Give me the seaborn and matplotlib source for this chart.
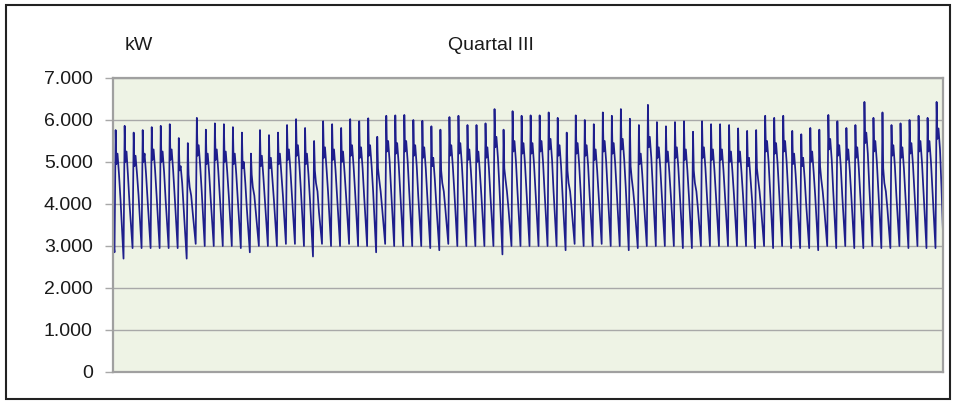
import numpy as np
import pandas as pd
import matplotlib
matplotlib.use("Agg")
import matplotlib.pyplot as plt
import seaborn as sns
from matplotlib.patches import Rectangle

# ---------------- data ----------------
title = "Quartal III"
unit = "kW"
y_ticks = [0, 1000, 2000, 3000, 4000, 5000, 6000, 7000]
y_tick_labels = ["0", "1.000", "2.000", "3.000", "4.000", "5.000", "6.000", "7.000"]

start_date = "2006-07-01"
start_value = 3200
end_value = 3300

# night minimum of each day (kW)
trough = [2850, 2700, 2950, 2950, 2950, 2950, 2950, 2950, 2700, 3050, 3000, 3000, 3000, 3000, 2950,
          2850, 3000, 3000, 3000, 3050, 3050, 3000, 2750, 3050, 3000, 3000, 3050, 3000, 3000, 2850,
          3050, 3000, 3000, 3000, 3000, 2950, 2900, 3050, 3000, 3000, 3000, 3000, 3000, 2800, 3000, 3000,
          3000, 3000, 3000, 3000, 2900, 3050, 3000, 3000, 3050, 3000, 3000, 2900, 2950, 3000, 3000,
          3000, 3000, 2950, 2950, 3000, 3000, 3000, 3000, 3000, 3000, 2950, 3000, 2950, 3000, 2950, 2950,
          2950, 2900, 3000, 2950, 3000, 2950, 2950, 3000, 2950, 2950, 3000, 2950, 3000, 2950, 2950]

# morning peak of each day (kW)
peak = [5760, 5860, 5700, 5760, 5830, 5860, 5900, 5570, 5450, 6050, 5770, 5920, 5900, 5830, 5700,
        5200, 5760, 5640, 5700, 5880, 6020, 5810, 5500, 5970, 5900, 5810, 6020, 5970, 6040, 5600,
        6100, 6110, 6120, 6000, 5980, 5850, 5770, 6070, 6100, 5880, 5880, 5920, 6260, 5770, 6210, 6100,
        6110, 6110, 6180, 6050, 5700, 6110, 6000, 5900, 6180, 6100, 6260, 6030, 5880, 6360, 5950,
        5850, 5950, 5970, 5720, 5970, 5900, 5900, 5880, 5800, 5740, 5760, 6100, 6050, 6100, 5740, 5660,
        5810, 5770, 6120, 5970, 5810, 5880, 6430, 6050, 6180, 5880, 5920, 6000, 6100, 6050, 6430]

# level just after the peak (kW)
dip = [4950, 5000, 4900, 5000, 5050, 5000, 5050, 4800, 4700, 5150, 4950, 5050, 5000, 4950, 4850,
       4700, 4900, 4850, 4950, 5050, 5150, 4950, 4800, 5100, 5050, 5000, 5150, 5100, 5150, 4850,
       5250, 5200, 5250, 5150, 5100, 4900, 4800, 5150, 5200, 5050, 5000, 5100, 5350, 4850, 5250, 5200,
       5200, 5250, 5300, 5150, 4800, 5200, 5150, 5050, 5250, 5200, 5300, 4900, 4950, 5350, 5100,
       5000, 5100, 5050, 4800, 5100, 5050, 5050, 5000, 5000, 4900, 4850, 5250, 5200, 5250, 4950, 4900,
       5000, 4900, 5300, 5150, 5050, 5100, 5450, 5250, 4850, 5150, 5100, 5200, 5250, 5250, 5550]

# midday plateau of each day (kW)
mid = [5200, 5250, 5150, 5200, 5300, 5250, 5300, 4900, 4400, 5400, 5200, 5300, 5250, 5200, 5000,
       4400, 5150, 5100, 5200, 5300, 5400, 5200, 4500, 5350, 5300, 5250, 5400, 5350, 5400, 4600,
       5500, 5450, 5500, 5400, 5350, 5100, 4500, 5400, 5450, 5300, 5250, 5350, 5600, 4600, 5500, 5450,
       5450, 5500, 5550, 5400, 4500, 5450, 5400, 5300, 5500, 5450, 5550, 4600, 5200, 5600, 5350,
       5250, 5350, 5300, 4500, 5350, 5300, 5300, 5250, 5250, 5100, 4600, 5500, 5450, 5500, 5200, 5100,
       5250, 4600, 5550, 5400, 5300, 5350, 5700, 5500, 4500, 5400, 5350, 5450, 5500, 5500, 5800]

# afternoon level of each day (kW)
afternoon = [4700, 4650, 4700, 4700, 4800, 4750, 4800, 4500, 4200, 4900, 4700, 4800, 4750, 4700, 4500,
             4200, 4650, 4600, 4700, 4800, 4900, 4700, 4300, 4850, 4800, 4750, 4900, 4850, 4900, 4300,
             5000, 4950, 5000, 4900, 4850, 4600, 4300, 4900, 4950, 4800, 4750, 4850, 5100, 4300, 5000, 4950,
             4950, 5000, 5050, 4900, 4300, 4950, 4900, 4800, 5000, 4950, 5050, 4300, 4700, 5100, 4850,
             4750, 4850, 4800, 4300, 4850, 4800, 4800, 4750, 4750, 4600, 4300, 5000, 4950, 5000, 4700, 4600,
             4750, 4300, 5050, 4900, 4800, 4850, 5200, 5000, 4300, 4900, 4850, 4950, 5000, 5000, 5300]

# evening level of each day (kW)
evening = [4100, 4000, 4200, 4100, 4200, 4100, 4200, 3900, 3800, 4300, 4100, 4200, 4200, 4100, 3900,
           3800, 4100, 4100, 4200, 4200, 4300, 4100, 3800, 4300, 4200, 4200, 4300, 4200, 4300, 3900,
           4300, 4300, 4300, 4200, 4200, 4000, 3900, 4300, 4300, 4200, 4200, 4200, 4400, 3900, 4300, 4300,
           4300, 4300, 4300, 4200, 3900, 4300, 4200, 4200, 4300, 4300, 4400, 3900, 4100, 4400, 4200,
           4200, 4200, 4200, 3900, 4200, 4200, 4200, 4200, 4200, 4100, 3900, 4300, 4300, 4300, 4100, 4000,
           4200, 3900, 4300, 4200, 4200, 4200, 4400, 4300, 3900, 4200, 4200, 4300, 4300, 4300, 4400]

sample_hours = (4, 7, 9, 12, 16, 20)

# ---------------- build long table ----------------
day0 = pd.Timestamp(start_date)
times = [day0]
values = [start_value]
for d in range(len(peak)):
    base = day0 + pd.Timedelta(days=d)
    day_vals = (trough[d], peak[d], dip[d], mid[d], afternoon[d], evening[d])
    for h, v in zip(sample_hours, day_vals):
        times.append(base + pd.Timedelta(hours=h))
        values.append(v)
times.append(day0 + pd.Timedelta(days=len(peak)))
values.append(end_value)
df = pd.DataFrame({"time": times, "kW": values})

# ---------------- figure ----------------
sns.set_style("white")
plt.rcParams["font.family"] = ["Liberation Sans", "DejaVu Sans"]

W, H = 955, 401
fig = plt.figure(figsize=(W / 100, H / 100), dpi=100)
fig.patch.set_facecolor("white")
ax = fig.add_axes([113 / W, 1 - 372 / H, (943 - 113) / W, (372 - 78) / H])

sns.lineplot(data=df, x="time", y="kW", ax=ax, color="#1e1e8c",
             linewidth=1.25, estimator=None, errorbar=None)

ax.set_xlim(df["time"].min(), df["time"].max())
ax.set_ylim(0, 7000)
ax.set_yticks(y_ticks)
ax.set_yticklabels(y_tick_labels)
ax.set_xticks([])
ax.set_xlabel("")
ax.set_ylabel("")
ax.set_facecolor("#EEF3E5")
ax.grid(axis="y", color="#A8A8A8", linewidth=1.0)
ax.grid(axis="x", visible=False)
ax.set_axisbelow(True)
for s in ax.spines.values():
    s.set_visible(True)
    s.set_color("#A0A0A0")
    s.set_linewidth(1.6)
ax.tick_params(axis="y", length=6, width=1, color="#A8A8A8", pad=8.5,
               labelsize=14, labelcolor="#1a1a1a", left=True)

fig.text(491 / W, 1 - 45 / H, title, ha="center", va="center",
         fontsize=14, color="#1a1a1a")
fig.text(139 / W, 1 - 46 / H, unit, ha="center", va="center",
         fontsize=14, color="#1a1a1a")

fig.add_artist(Rectangle((6 / W, 1 - 399 / H), (950 - 6) / W, (399 - 5) / H,
                         transform=fig.transFigure, fill=False,
                         edgecolor="#222222", linewidth=1.5))

fig.savefig("out.png", dpi=100)
